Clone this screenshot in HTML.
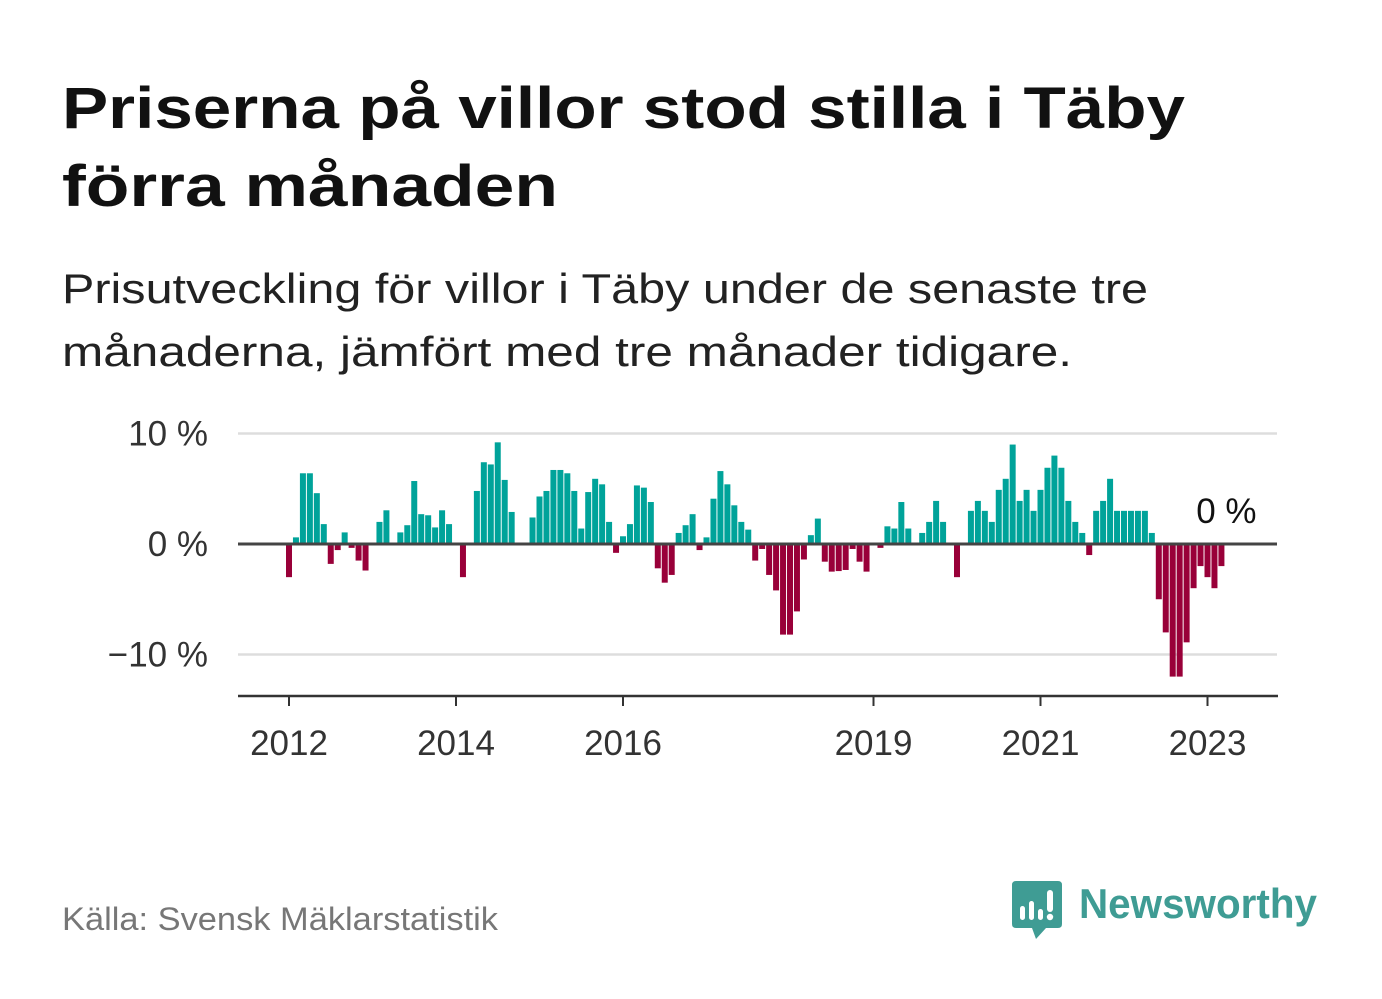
<!DOCTYPE html>
<html><head><meta charset="utf-8">
<style>
html,body{margin:0;padding:0;background:#fff;}
svg{display:block;font-family:"Liberation Sans",sans-serif;}
</style></head>
<body>
<svg id="chart" width="1382" height="999" viewBox="0 0 1382 999" xmlns="http://www.w3.org/2000/svg">
  <text x="62" y="128" font-size="58" font-weight="bold" fill="#111" textLength="1123" lengthAdjust="spacingAndGlyphs">Priserna på villor stod stilla i Täby</text>
  <text x="62" y="206" font-size="58" font-weight="bold" fill="#111" textLength="496" lengthAdjust="spacingAndGlyphs">förra månaden</text>
  <text x="62" y="303" font-size="42" fill="#222" textLength="1086" lengthAdjust="spacingAndGlyphs">Prisutveckling för villor i Täby under de senaste tre</text>
  <text x="62" y="366" font-size="42" fill="#222" textLength="1010" lengthAdjust="spacingAndGlyphs">månaderna, jämfört med tre månader tidigare.</text>
  <g id="plot"></g>
  <text x="62" y="930" font-size="32" fill="#777" textLength="436" lengthAdjust="spacingAndGlyphs">Källa: Svensk Mäklarstatistik</text>
  <g>
    <path d="M1016 881 H1058 Q1062 881 1062 885 V924 Q1062 928 1058 928 H1046 L1036 939 L1032 928 H1016 Q1012 928 1012 924 V885 Q1012 881 1016 881 Z" fill="#3f9c94"/>
    <rect x="1020" y="906" width="5" height="14" rx="2.5" fill="#fff"/>
    <rect x="1029" y="901" width="5" height="19" rx="2.5" fill="#fff"/>
    <rect x="1038" y="909" width="5" height="11" rx="2.5" fill="#fff"/>
    <rect x="1047" y="890" width="6" height="22" rx="3" fill="#fff"/>
    <circle cx="1050" cy="917" r="3.2" fill="#fff"/>
    <text x="1079" y="918" font-size="42" font-weight="bold" fill="#3f9c94" textLength="238" lengthAdjust="spacingAndGlyphs">Newsworthy</text>
  </g>
</svg>
<script>
const values = [-3.0,0.6,6.4,6.4,4.6,1.8,-1.8,-0.55,1.05,-0.35,-1.5,-2.4,
0,2.0,3.05,0,1.05,1.7,5.7,2.7,2.6,1.5,3.05,1.8,
0,-3.0,0,4.8,7.4,7.2,9.2,5.8,2.9,0,0,2.4,
4.3,4.8,6.7,6.7,6.4,4.8,1.4,4.7,5.9,5.4,2.0,-0.8,
0.7,1.8,5.3,5.1,3.8,-2.2,-3.5,-2.8,1.0,1.7,2.7,-0.55,
0.6,4.1,6.6,5.4,3.5,2.0,1.3,-1.5,-0.45,-2.8,-4.2,-8.2,
-8.2,-6.1,-1.4,0.8,2.3,-1.6,-2.5,-2.45,-2.35,-0.45,-1.6,-2.5,
0,-0.35,1.6,1.4,3.8,1.4,0,1.0,2.0,3.9,2.0,0,
-3.0,0,3.0,3.9,3.0,2.0,4.9,5.9,9.0,3.9,4.9,3.0,
4.9,6.9,8.0,6.9,3.9,2.0,1.0,-1.0,3.0,3.9,5.9,3.0,
3.0,3.0,3.0,3.0,1.0,-5.0,-8.0,-12.0,-12.0,-8.9,-4.0,-2.0,
-3.0,-4.0,-2.0,0];
const startYear = 2012;
const yTicks = [10,0,-10];
const yTickLabels = ["10 %","0 %","\u221210 %"];
const xTickYears = [2012,2014,2016,2019,2021,2023];
const lastLabel = "0 %";

const NS="http://www.w3.org/2000/svg";
const plot=document.getElementById('plot');
const x0=289, monthW=83.5/12;
const xScale = i => x0 + i*monthW;
const yZero=544, pxPer=11.05;
const yScale = v => yZero - v*pxPer;
function mk(tag, attrs){const e=document.createElementNS(NS,tag);for(const k in attrs)e.setAttribute(k,attrs[k]);plot.appendChild(e);return e;}

yTicks.forEach((t,k)=>{
  if(t!==0){
    const g=mk('line',{x1:238,x2:1277,y1:yScale(t),y2:yScale(t),stroke:'#dddddd','stroke-width':2.5});
    
    
  }
  const tx=mk('text',{x:208,y:yScale(t)+12,'font-size':35,'text-anchor':'end',fill:'#333'});
  tx.textContent=yTickLabels[k];
  
  
});

values.forEach((v,i)=>{
  if(v===0) return;
  const cx=xScale(i);
  const y=Math.min(yScale(v),yZero), h=Math.abs(yScale(v)-yZero);
  const r=mk('rect',{x:cx-3,y:y,width:6,height:h,fill:v>0?'#00a39a':'#990039'});
  
  
});

const zl=mk('line',{x1:238,x2:1277,y1:yZero,y2:yZero,stroke:'#444','stroke-width':3});



const ax=mk('line',{x1:238,x2:1278,y1:696,y2:696,stroke:'#333','stroke-width':2.5});



xTickYears.forEach(yr=>{
  const cx=xScale((yr-startYear)*12);
  const tk=mk('line',{x1:cx,x2:cx,y1:696,y2:706,stroke:'#333','stroke-width':2});
  
  
  const tx=mk('text',{x:cx,y:755,'font-size':35,'text-anchor':'middle',fill:'#333'});
  tx.textContent=String(yr);
  
  
});

const li=values.length-1;
const ll=mk('text',{x:xScale(li)-2,y:Math.min(yScale(values[li]),yZero)-21,'font-size':35,'text-anchor':'middle',fill:'#111'});
ll.textContent=lastLabel;


</script>
</body></html>
